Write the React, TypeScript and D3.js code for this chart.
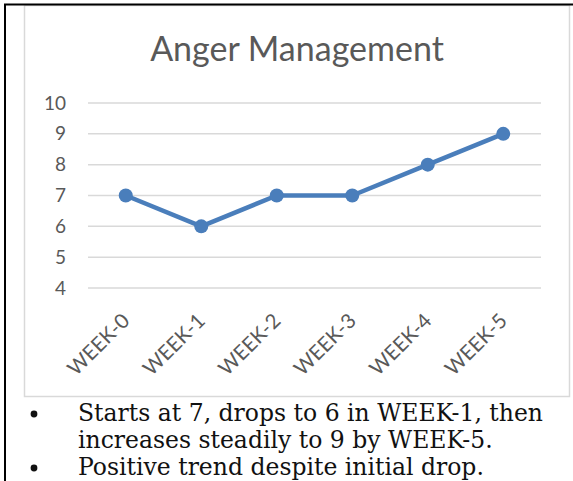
import React, { useEffect, useRef } from 'react';
import * as d3 from 'd3';

const weeks = ['WEEK-0', 'WEEK-1', 'WEEK-2', 'WEEK-3', 'WEEK-4', 'WEEK-5'];
const scores = [7, 6, 7, 7, 8, 9];
const yTicks = [4, 5, 6, 7, 8, 9, 10];
const notes = [
  ['Starts at 7, drops to 6 in WEEK-1, then', 'increases steadily to 9 by WEEK-5.'],
  ['Positive trend despite initial drop.'],
];

const W = 573;
const H = 481;

const App = () => {
  const svgRef = useRef<SVGSVGElement>(null);

  useEffect(() => {
    const svg = d3.select(svgRef.current);
    svg.selectAll('*').remove();

    const plot = { left: 88, right: 541, top: 103, bottom: 288 };
    const sans = 'Lato, "Open Sans", sans-serif';

    // page frame
    svg.append('rect').attr('width', W).attr('height', H).attr('fill', '#fff');
    svg.append('rect')
      .attr('x', 24.5).attr('y', 5.5).attr('width', 545).attr('height', 391)
      .attr('fill', 'none').attr('stroke', '#d9d9d9').attr('stroke-width', 1.5);
    svg.append('line').attr('x1', 4).attr('x2', W).attr('y1', 4.5).attr('y2', 4.5)
      .attr('stroke', '#000').attr('stroke-width', 2);
    svg.append('line').attr('x1', 5).attr('x2', 5).attr('y1', 4).attr('y2', H)
      .attr('stroke', '#000').attr('stroke-width', 2);

    svg.append('text')
      .attr('x', 297).attr('y', 61)
      .attr('text-anchor', 'middle')
      .attr('font-family', sans).attr('font-size', 34)
      .attr('fill', '#595959')
      .text('Anger Management');

    const x = d3.scaleBand().domain(weeks).range([plot.left, plot.right]);
    const y = d3.scaleLinear().domain([4, 10]).range([plot.bottom, plot.top]);

    // grid
    svg.append('g')
      .selectAll('line')
      .data(yTicks)
      .join('line')
      .attr('x1', plot.left).attr('x2', plot.right)
      .attr('y1', d => y(d)).attr('y2', d => y(d))
      .attr('stroke', '#d9d9d9').attr('stroke-width', 1.5);

    svg.append('g')
      .selectAll('text')
      .data(yTicks)
      .join('text')
      .attr('x', 66).attr('y', d => y(d))
      .attr('dy', '0.35em')
      .attr('text-anchor', 'end')
      .attr('font-family', sans).attr('font-size', 19)
      .attr('fill', '#595959')
      .text(d => d);

    // x labels
    svg.append('g')
      .selectAll('text')
      .data(weeks)
      .join('text')
      .attr('transform', d => `translate(${x(d)! + x.bandwidth() / 2},${plot.bottom + 29}) rotate(-45)`)
      .attr('text-anchor', 'end')
      .attr('dy', '0.35em')
      .attr('font-family', sans).attr('font-size', 20.5)
      .attr('fill', '#595959')
      .text(d => d);

    const cx = (i: number) => x(weeks[i])! + x.bandwidth() / 2;
    const line = d3.line<number>().x((_, i) => cx(i)).y(d => y(d));

    svg.append('path')
      .datum(scores)
      .attr('d', line)
      .attr('fill', 'none')
      .attr('stroke', '#4a7ebb')
      .attr('stroke-width', 4.5)
      .attr('stroke-linejoin', 'round');

    svg.append('g')
      .selectAll('circle')
      .data(scores)
      .join('circle')
      .attr('cx', (_, i) => cx(i)).attr('cy', d => y(d))
      .attr('r', 7)
      .attr('fill', '#4a7ebb');

    // bullet notes
    const serif = '"DejaVu Serif", serif';
    let lineY = 421;
    const notesG = svg.append('g').attr('font-family', serif).attr('font-size', 23.5).attr('fill', '#111');
    notes.forEach(item => {
      notesG.append('circle').attr('cx', 34).attr('cy', lineY - 7).attr('r', 3.4).attr('fill', '#111');
      item.forEach(t => {
        notesG.append('text').attr('x', 78).attr('y', lineY).text(t);
        lineY += 27;
      });
    });
  }, []);

  return (
    <svg ref={svgRef} width={W} height={H} style={{ position: 'absolute', left: 0, top: 0 }} />
  );
};

export default App;
